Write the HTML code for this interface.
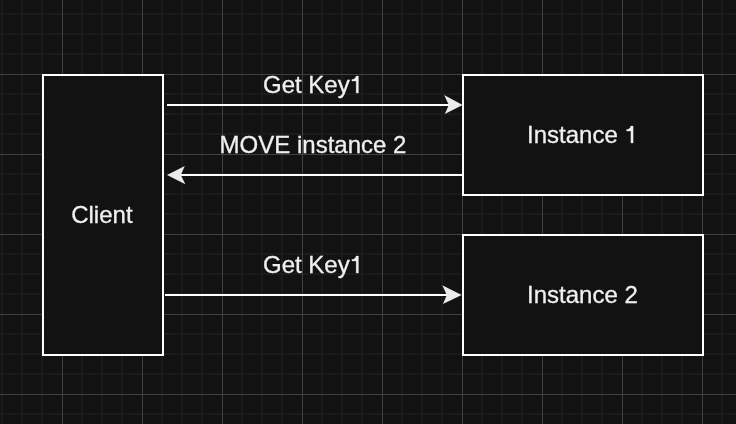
<!DOCTYPE html>
<html><head><meta charset="utf-8"><style>
html,body{margin:0;padding:0;background:#121212;width:736px;height:424px;overflow:hidden}
svg{display:block}
</style></head><body>
<svg width="736" height="424" viewBox="0 0 736 424">
<rect width="736" height="424" fill="#121212"/>
<g shape-rendering="crispEdges">
<rect x="1" y="0" width="2" height="424" fill="#1b1b1b"/>
<rect x="21" y="0" width="2" height="424" fill="#1b1b1b"/>
<rect x="41" y="0" width="2" height="424" fill="#1b1b1b"/>
<rect x="81" y="0" width="2" height="424" fill="#1b1b1b"/>
<rect x="101" y="0" width="2" height="424" fill="#1b1b1b"/>
<rect x="121" y="0" width="2" height="424" fill="#1b1b1b"/>
<rect x="161" y="0" width="2" height="424" fill="#1b1b1b"/>
<rect x="181" y="0" width="2" height="424" fill="#1b1b1b"/>
<rect x="201" y="0" width="2" height="424" fill="#1b1b1b"/>
<rect x="241" y="0" width="2" height="424" fill="#1b1b1b"/>
<rect x="261" y="0" width="2" height="424" fill="#1b1b1b"/>
<rect x="281" y="0" width="2" height="424" fill="#1b1b1b"/>
<rect x="321" y="0" width="2" height="424" fill="#1b1b1b"/>
<rect x="341" y="0" width="2" height="424" fill="#1b1b1b"/>
<rect x="361" y="0" width="2" height="424" fill="#1b1b1b"/>
<rect x="401" y="0" width="2" height="424" fill="#1b1b1b"/>
<rect x="421" y="0" width="2" height="424" fill="#1b1b1b"/>
<rect x="441" y="0" width="2" height="424" fill="#1b1b1b"/>
<rect x="481" y="0" width="2" height="424" fill="#1b1b1b"/>
<rect x="501" y="0" width="2" height="424" fill="#1b1b1b"/>
<rect x="521" y="0" width="2" height="424" fill="#1b1b1b"/>
<rect x="561" y="0" width="2" height="424" fill="#1b1b1b"/>
<rect x="581" y="0" width="2" height="424" fill="#1b1b1b"/>
<rect x="601" y="0" width="2" height="424" fill="#1b1b1b"/>
<rect x="641" y="0" width="2" height="424" fill="#1b1b1b"/>
<rect x="661" y="0" width="2" height="424" fill="#1b1b1b"/>
<rect x="681" y="0" width="2" height="424" fill="#1b1b1b"/>
<rect x="721" y="0" width="2" height="424" fill="#1b1b1b"/>
<rect x="0" y="13" width="736" height="2" fill="#1b1b1b"/>
<rect x="0" y="33" width="736" height="2" fill="#1b1b1b"/>
<rect x="0" y="53" width="736" height="2" fill="#1b1b1b"/>
<rect x="0" y="93" width="736" height="2" fill="#1b1b1b"/>
<rect x="0" y="113" width="736" height="2" fill="#1b1b1b"/>
<rect x="0" y="133" width="736" height="2" fill="#1b1b1b"/>
<rect x="0" y="173" width="736" height="2" fill="#1b1b1b"/>
<rect x="0" y="193" width="736" height="2" fill="#1b1b1b"/>
<rect x="0" y="213" width="736" height="2" fill="#1b1b1b"/>
<rect x="0" y="253" width="736" height="2" fill="#1b1b1b"/>
<rect x="0" y="273" width="736" height="2" fill="#1b1b1b"/>
<rect x="0" y="293" width="736" height="2" fill="#1b1b1b"/>
<rect x="0" y="333" width="736" height="2" fill="#1b1b1b"/>
<rect x="0" y="353" width="736" height="2" fill="#1b1b1b"/>
<rect x="0" y="373" width="736" height="2" fill="#1b1b1b"/>
<rect x="0" y="413" width="736" height="2" fill="#1b1b1b"/>
<rect x="62" y="0" width="1" height="424" fill="#404040"/>
<rect x="142" y="0" width="1" height="424" fill="#404040"/>
<rect x="222" y="0" width="1" height="424" fill="#404040"/>
<rect x="302" y="0" width="1" height="424" fill="#404040"/>
<rect x="382" y="0" width="1" height="424" fill="#404040"/>
<rect x="462" y="0" width="1" height="424" fill="#404040"/>
<rect x="542" y="0" width="1" height="424" fill="#404040"/>
<rect x="622" y="0" width="1" height="424" fill="#404040"/>
<rect x="702" y="0" width="1" height="424" fill="#404040"/>
<rect x="0" y="74" width="736" height="1" fill="#404040"/>
<rect x="0" y="154" width="736" height="1" fill="#404040"/>
<rect x="0" y="234" width="736" height="1" fill="#404040"/>
<rect x="0" y="314" width="736" height="1" fill="#404040"/>
<rect x="0" y="394" width="736" height="1" fill="#404040"/>
</g>
<g fill="#121212" stroke="#ffffff" stroke-width="2">
<rect x="43" y="75" width="120" height="280"/>
<rect x="463" y="75" width="240" height="120"/>
<rect x="463" y="235" width="240" height="120"/>
</g>
<g fill="#ffffff">
<rect x="167" y="104" width="282" height="2"/>
<rect x="180" y="174" width="282" height="2"/>
<rect x="165" y="294" width="282" height="2"/>
</g>
<g fill="#ebebeb">
<polygon points="462.6,105 444.1,95.0 448.8,105 444.8,114"/>
<polygon points="167,175 184.8,166 180.8,175 185.4,184.3"/>
<polygon points="461.6,295 442.3,285.2 446.8,295 443,304"/>
</g>
<g font-family="Liberation Sans, sans-serif" font-size="24" fill="#f0f0f0" stroke="#f0f0f0" stroke-width="0.3" style="will-change:transform">
<text x="262.97" y="92.5">Get Key</text>
<text x="219.62" y="153">MOVE instance 2</text>
<text x="262.97" y="272.5">Get Key</text>
<text x="71.2" y="223">Client</text>
<text x="527" y="143">Instance</text>
<text x="527" y="303">Instance 2</text>
</g>
<g fill="#f0f0f0" stroke="#f0f0f0" stroke-width="0.3">
<path d="M358.44,76.10 L358.44,93.00 L356.19,93.00 L356.19,81.10 L351.89,81.10 L351.89,79.50 C354.29,79.40 355.59,78.60 356.09,76.10 Z"/>
<path d="M358.44,256.10 L358.44,273.00 L356.19,273.00 L356.19,261.10 L351.89,261.10 L351.89,259.50 C354.29,259.40 355.59,258.60 356.09,256.10 Z"/>
<path d="M633.14,126.10 L633.14,143.00 L630.89,143.00 L630.89,131.10 L626.59,131.10 L626.59,129.50 C628.99,129.40 630.29,128.60 630.79,126.10 Z"/>
</g>
</svg>
</body></html>
